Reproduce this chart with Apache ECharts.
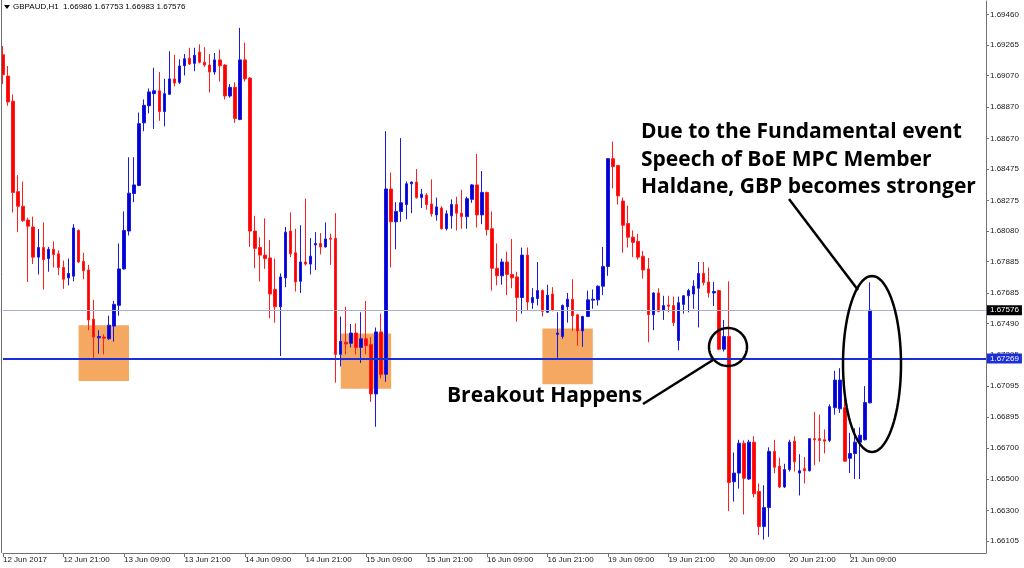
<!DOCTYPE html>
<html><head><meta charset="utf-8">
<script src="https://cdn.jsdelivr.net/npm/echarts@6/dist/echarts.min.js"></script>
<style>html,body{margin:0;padding:0;background:#fff}#c{width:1024px;height:568px}</style>
</head><body><div id="c"></div>
<script>
// GBPAUD H1 candles, 12 Jun 2017 09:00 onward (hourly)
const opens = [
1.69203,1.69067,1.68907,1.68331,1.68238,1.68150,1.68106,1.67914,1.67975,1.67905,
1.67964,1.67935,1.67848,1.67782,1.67793,1.68084,1.67887,1.67832,1.67519,1.67400,
1.67405,1.67394,1.67475,1.67607,1.67839,1.68080,1.68319,1.68370,1.68769,1.68878,
1.68955,1.68973,1.68841,1.68951,1.69049,1.69027,1.69133,1.69181,1.69148,1.69220,
1.69155,1.69137,1.69093,1.69170,1.69137,1.68940,1.68995,1.68791,1.69170,1.69054,
1.68080,1.67975,1.67927,1.67909,1.67708,1.67598,1.67782,1.68080,1.67942,1.67760,
1.67883,1.67870,1.67992,1.68001,1.67979,1.68034,1.68034,1.67295,1.67372,1.67365,
1.67431,1.67339,1.67394,1.67357,1.67043,1.67438,1.67168,1.68348,1.68139,1.68205,
1.68249,1.68381,1.68392,1.68293,1.68308,1.68253,1.68183,1.68227,1.68095,1.68177,
1.68249,1.68194,1.68172,1.68282,1.68374,1.68183,1.68326,1.68095,1.67843,1.67795,
1.67883,1.67804,1.67788,1.67657,1.67927,1.67624,1.67650,1.67701,1.67563,1.67679,
1.67422,1.67409,1.67598,1.67646,1.67547,1.67444,1.67536,1.67640,1.67642,1.67729,
1.67854,1.68541,1.68497,1.68271,1.68128,1.68041,1.68014,1.67920,1.67839,1.67547,
1.67686,1.67576,1.67609,1.67606,1.67383,1.67613,1.67668,1.67679,1.67716,1.67810,
1.67756,1.67686,1.67701,1.67328,1.67409,1.66484,1.66539,1.66729,1.66501,1.66736,
1.66422,1.66199,1.66319,1.66677,1.66583,1.66451,1.66561,1.66742,1.66539,1.66567,
1.66554,1.66758,1.66758,1.66751,1.66747,1.66955,1.66948,1.66955,1.66633,1.66663,
1.66736,1.66751,1.66986];
const highs = [
1.69258,1.69131,1.68950,1.68436,1.68396,1.68165,1.68172,1.68093,1.68135,1.67979,
1.68014,1.67957,1.67892,1.67905,1.68124,1.68090,1.67942,1.67865,1.67642,1.67449,
1.67422,1.67541,1.67635,1.68001,1.68205,1.68550,1.68550,1.68835,1.68918,1.68988,
1.69120,1.69093,1.69049,1.69225,1.69203,1.69174,1.69207,1.69247,1.69247,1.69269,
1.69251,1.69207,1.69214,1.69236,1.69142,1.69016,1.69027,1.69374,1.69280,1.69060,
1.68177,1.68041,1.68161,1.68023,1.67905,1.67810,1.68106,1.68199,1.68095,1.68117,
1.68286,1.68036,1.68073,1.68067,1.68135,1.68063,1.68194,1.67536,1.67598,1.67488,
1.67492,1.67563,1.67635,1.67405,1.67466,1.67554,1.68716,1.68453,1.68264,1.68672,
1.68396,1.68396,1.68475,1.68348,1.68321,1.68409,1.68293,1.68238,1.68212,1.68282,
1.68299,1.68343,1.68299,1.68380,1.68571,1.68462,1.68331,1.68205,1.68001,1.67905,
1.67949,1.68030,1.67821,1.67975,1.67975,1.67716,1.67883,1.67708,1.67738,1.67723,
1.67563,1.67613,1.67686,1.67773,1.67552,1.67541,1.67701,1.67708,1.67734,1.67979,
1.68545,1.68650,1.68501,1.68293,1.68242,1.68084,1.68063,1.67953,1.67909,1.67690,
1.67716,1.67668,1.67668,1.67663,1.67663,1.67672,1.67712,1.67767,1.67883,1.67883,
1.67848,1.67756,1.67706,1.67514,1.67760,1.66670,1.66751,1.66747,1.66751,1.66773,
1.66473,1.66462,1.66703,1.66751,1.66637,1.66598,1.66751,1.66773,1.66659,1.66641,
1.66762,1.66927,1.66911,1.66817,1.66977,1.67190,1.67207,1.67131,1.66795,1.66824,
1.66830,1.67093,1.67753];
const lows = [
1.69016,1.68878,1.68199,1.68073,1.68139,1.67756,1.67870,1.67804,1.67708,1.67821,
1.67848,1.67800,1.67712,1.67734,1.67760,1.67876,1.67773,1.67449,1.67273,1.67299,
1.67295,1.67387,1.67376,1.67541,1.67835,1.68052,1.68264,1.68366,1.68716,1.68830,
1.68731,1.68782,1.68747,1.68947,1.69001,1.69016,1.69071,1.69137,1.69098,1.69148,
1.69126,1.68962,1.69076,1.69032,1.68918,1.68929,1.68769,1.68786,1.69032,1.67979,
1.67843,1.67760,1.67839,1.67525,1.67497,1.67284,1.67723,1.67914,1.67695,1.67686,
1.67861,1.67804,1.67832,1.67931,1.67975,1.67865,1.67115,1.67218,1.67295,1.67339,
1.67295,1.67240,1.67295,1.66992,1.66834,1.67142,1.67120,1.67848,1.67964,1.68139,
1.68155,1.68194,1.68286,1.68227,1.68216,1.68172,1.68146,1.68089,1.68084,1.68095,
1.68084,1.68095,1.68095,1.68260,1.68102,1.68124,1.68052,1.67701,1.67734,1.67738,
1.67672,1.67716,1.67503,1.67554,1.67576,1.67585,1.67606,1.67536,1.67560,1.67569,
1.67273,1.67394,1.67497,1.67444,1.67350,1.67343,1.67532,1.67585,1.67606,1.67672,
1.67795,1.68352,1.68249,1.67942,1.67975,1.67914,1.67898,1.67777,1.67372,1.67449,
1.67563,1.67514,1.67563,1.67475,1.67321,1.67554,1.67563,1.67585,1.67466,1.67734,
1.67657,1.67602,1.67321,1.67313,1.66297,1.66357,1.66440,1.66275,1.66495,1.66385,
1.66144,1.66115,1.66133,1.66539,1.66444,1.66444,1.66549,1.66549,1.66396,1.66473,
1.66549,1.66589,1.66611,1.66664,1.66736,1.66911,1.66922,1.66611,1.66539,1.66501,
1.66501,1.66747,1.66983];
const closes = [
1.69076,1.68902,1.68326,1.68238,1.68146,1.68111,1.67914,1.67975,1.67898,1.67964,
1.67931,1.67848,1.67773,1.67810,1.68100,1.67883,1.67828,1.67514,1.67405,1.67409,
1.67398,1.67481,1.67613,1.67839,1.68084,1.68321,1.68374,1.68764,1.68881,1.68966,
1.68973,1.68841,1.68955,1.69049,1.69023,1.69131,1.69177,1.69144,1.69199,1.69155,
1.69137,1.69093,1.69170,1.69133,1.68940,1.68995,1.68797,1.69170,1.69049,1.68080,
1.67970,1.67927,1.67905,1.67679,1.67598,1.67788,1.68073,1.67935,1.67756,1.67883,
1.67870,1.67920,1.68001,1.67979,1.68030,1.68028,1.67295,1.67378,1.67361,1.67431,
1.67339,1.67394,1.67350,1.67043,1.67438,1.67168,1.68348,1.68139,1.68205,1.68260,
1.68381,1.68392,1.68293,1.68315,1.68249,1.68190,1.68234,1.68095,1.68190,1.68249,
1.68194,1.68172,1.68286,1.68374,1.68183,1.68326,1.68089,1.67843,1.67795,1.67883,
1.67804,1.67782,1.67657,1.67927,1.67628,1.67657,1.67701,1.67569,1.67672,1.67576,
1.67431,1.67606,1.67646,1.67541,1.67444,1.67536,1.67642,1.67646,1.67729,1.67854,
1.68541,1.68490,1.68304,1.68117,1.68041,1.68008,1.67914,1.67832,1.67547,1.67686,
1.67569,1.67606,1.67602,1.67497,1.67624,1.67668,1.67701,1.67729,1.67810,1.67751,
1.67686,1.67695,1.67328,1.67409,1.66479,1.66539,1.66729,1.66506,1.66736,1.66407,
1.66199,1.66319,1.66677,1.66576,1.66451,1.66561,1.66736,1.66611,1.66554,1.66554,
1.66758,1.66751,1.66747,1.66742,1.66962,1.67131,1.67131,1.66615,1.66663,1.66736,
1.66780,1.66988,1.67576];

const xTickLabels = ['12 Jun 2017','12 Jun 21:00','13 Jun 09:00','13 Jun 21:00','14 Jun 09:00',
  '14 Jun 21:00','15 Jun 09:00','15 Jun 21:00','16 Jun 09:00','16 Jun 21:00',
  '19 Jun 09:00','19 Jun 21:00','20 Jun 09:00','20 Jun 21:00','21 Jun 09:00'];
const barsPerTick = 12;
const yTickValues = [1.69460,1.69265,1.69070,1.68870,1.68670,1.68475,1.68275,1.68080,1.67885,
  1.67685,1.67490,1.67295,1.67095,1.66895,1.66700,1.66500,1.66300,1.66105];
const lastPrice = 1.67576;
const supportLevel = 1.67269;
// orange zones: [startBar, endBar, lowPrice, highPrice]
const zoneStart = [15, 67, 107];
const zoneEnd = [25, 77, 117];
const zoneLow = [1.67126, 1.67076, 1.67104];
const zoneHigh = [1.67481, 1.67427, 1.67460];
const titleText = 'GBPAUD,H1  1.66986 1.67753 1.66983 1.67576';
const note1 = ['Due to the Fundamental event', 'Speech of BoE MPC Member', 'Haldane, GBP becomes stronger'];
const note2 = 'Breakout Happens';

const totalSlots = 196;
const cats = Array.from({length: totalSlots}, (_, i) => String(i));
const candles = opens.map((o, i) => [o, closes[i], lows[i], highs[i]]);
const tickFn = (i) => i % barsPerTick === 0 && i / barsPerTick < xTickLabels.length;

function ellipsePts(cx, cy, rx, ry) {
  const pts = [];
  for (let k = 0; k < 96; k++) {
    const a = k / 96 * Math.PI * 2;
    pts.push([cx + rx * Math.cos(a), cy + ry * Math.sin(a)]);
  }
  return pts;
}

const chart = echarts.init(document.getElementById('c'), null, {renderer: 'canvas'});
const axisCol = '#707070';
const txtFont = '"Liberation Sans", Arial, sans-serif';
const noteFont = 'bold 21px "Open Sans", sans-serif';

chart.setOption({
  animation: false,
  backgroundColor: '#ffffff',
  grid: {left: 2.7, right: 38, top: 1, bottom: 15, containLabel: false},
  xAxis: {
    type: 'category', data: cats, boundaryGap: false,
    axisLine: {show: true, lineStyle: {color: axisCol, width: 1}},
    axisTick: {show: true, interval: tickFn, length: 4, lineStyle: {color: axisCol}},
    axisLabel: {interval: tickFn, formatter: (v, i) => xTickLabels[i / barsPerTick],
      align: 'left', fontSize: 8, fontFamily: txtFont, color: '#202020', margin: 3},
    splitLine: {show: false}
  },
  yAxis: {
    type: 'value', position: 'right', min: 1.66030, max: 1.69545,
    axisLine: {show: true, lineStyle: {color: axisCol, width: 1}},
    axisTick: {show: true, length: 3, customValues: yTickValues, lineStyle: {color: axisCol}},
    axisLabel: {customValues: yTickValues, formatter: v => v.toFixed(5), fontSize: 8,
      fontFamily: txtFont, color: '#202020', margin: 4},
    splitLine: {show: false}
  },
  series: [
    {
      type: 'line', data: [], z: 1, silent: true,
      markArea: {
        silent: true,
        itemStyle: {color: '#f4a862', opacity: 1},
        data: zoneStart.map((s, k) => [
          {coord: [String(zoneStart[k]), zoneHigh[k]]},
          {coord: [String(zoneEnd[k]), zoneLow[k]]}
        ])
      }
    },
    {
      type: 'candlestick', data: candles, barWidth: 3, z: 3,
      itemStyle: {color: '#0000d4', color0: '#ff0000', borderColor: '#1a1ade', borderColor0: '#ff1e1e', borderWidth: 1},
      markLine: {
        symbol: 'none', silent: true, animation: false, precision: 5,
        data: [
          {yAxis: lastPrice, lineStyle: {color: '#a7b2ca', width: 1, type: 'solid'},
            label: {show: true, position: 'end', distance: 1, formatter: p => p.value.toFixed(5),
              backgroundColor: '#000', color: '#fff', fontSize: 8, fontFamily: txtFont, padding: [1, 3, 1, 3]}},
          {yAxis: supportLevel, lineStyle: {color: '#1b2ed8', width: 2, type: 'solid'},
            label: {show: true, position: 'end', distance: 1, formatter: p => p.value.toFixed(5),
              backgroundColor: '#1b2ed8', color: '#fff', fontSize: 8, fontFamily: txtFont, padding: [1, 3, 1, 3]}}
        ]
      }
    }
  ],
  graphic: [
    {type: 'line', shape: {x1: 1.5, y1: 0, x2: 1.5, y2: 553}, style: {stroke: axisCol, lineWidth: 1}, z: 50},
    {type: 'polygon', shape: {points: [[4, 5], [10, 5], [7, 9]]}, style: {fill: '#000'}, z: 50},
    {type: 'text', x: 13, y: 7, z: 50, style: {text: titleText, font: '8px ' + txtFont, fill: '#000', textVerticalAlign: 'middle'}},
    {type: 'polygon', shape: {points: ellipsePts(728, 347, 19, 19)}, style: {fill: 'none', stroke: '#000', lineWidth: 2.5}, z: 50},
    {type: 'line', shape: {x1: 643, y1: 404, x2: 713, y2: 360}, style: {stroke: '#000', lineWidth: 2.5}, z: 50},
    {type: 'polygon', shape: {points: ellipsePts(872, 364, 29, 88)}, style: {fill: 'none', stroke: '#000', lineWidth: 2.5}, z: 50},
    {type: 'line', shape: {x1: 789, y1: 199, x2: 858, y2: 290}, style: {stroke: '#000', lineWidth: 2.5}, z: 50},
    {type: 'text', x: 641, y: 132, z: 50, style: {text: note1[0], font: noteFont, fill: '#000', textVerticalAlign: 'middle'}},
    {type: 'text', x: 641, y: 160, z: 50, style: {text: note1[1], font: noteFont, fill: '#000', textVerticalAlign: 'middle'}},
    {type: 'text', x: 641, y: 187, z: 50, style: {text: note1[2], font: noteFont, fill: '#000', textVerticalAlign: 'middle'}},
    {type: 'text', x: 447, y: 396, z: 50, style: {text: note2, font: noteFont, fill: '#000', textVerticalAlign: 'middle'}}
  ]
});
</script>
</body></html>
